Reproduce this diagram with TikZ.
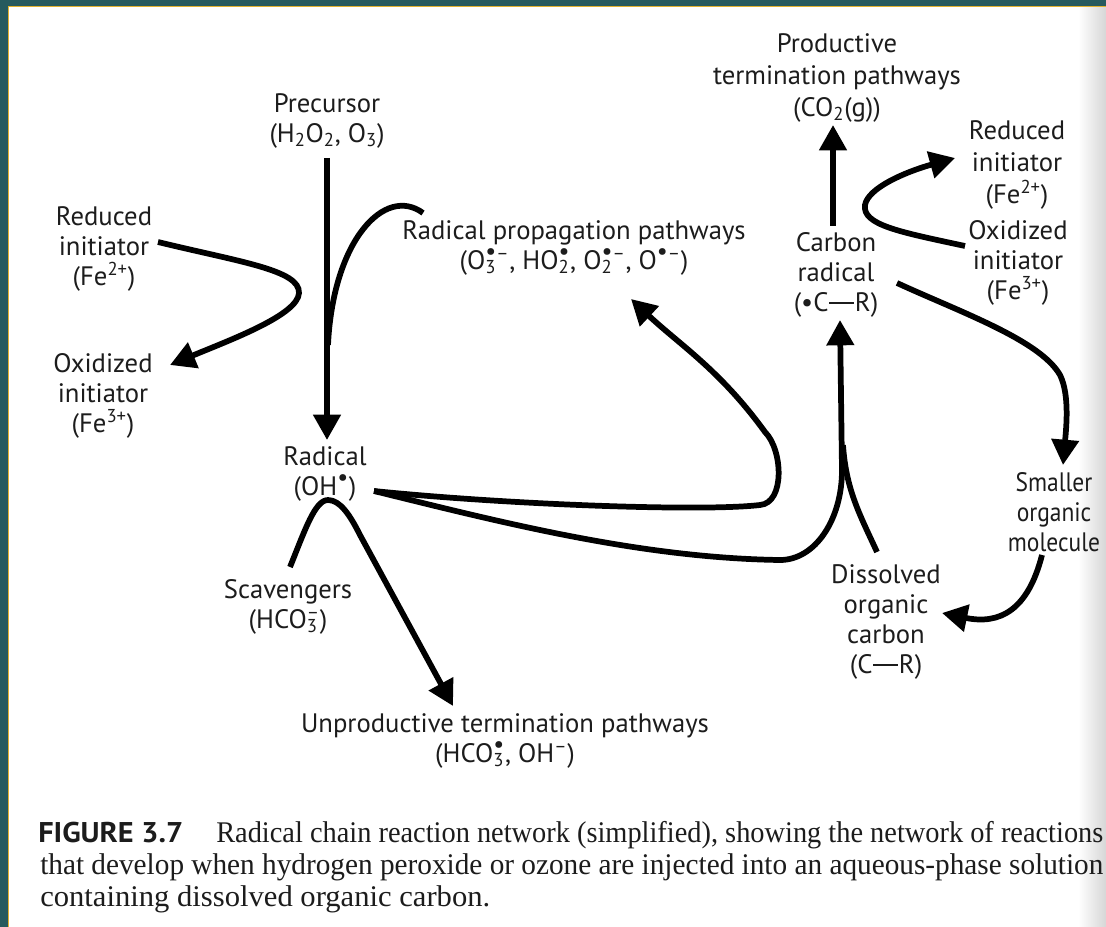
\documentclass[tikz,border=0pt]{standalone}
\usepackage{fontspec}
\usepackage{graphicx}
\usetikzlibrary{arrows.meta}
\newfontfamily\labfont{PT Sans}
\newfontfamily\labcond[FakeStretch=0.88]{PT Sans}
\newfontfamily\capserif{Liberation Serif}
\definecolor{frameteal}{RGB}{38,90,94}
\definecolor{framegold}{RGB}{226,178,48}
\definecolor{inkc}{RGB}{28,28,28}
\newcommand\chemss[2]{{\setbox0=\hbox{\textsuperscript{#2}}\setbox2=\hbox{\textsubscript{#1}}\ifdim\wd0>\wd2 \rlap{\copy2}\copy0 \else\rlap{\copy0}\copy2 \fi}}
\newcommand\rdot{\scalebox{1.3}{•}}
\newcommand\cdash{\kern0.02em\rule[0.29em]{0.95em}{0.065em}\kern0.02em}
\begin{document}
\begin{tikzpicture}[x=0.75pt,y=-0.75pt,
  lab/.style={font=\labfont\fontsize{20pt}{22.5pt}\selectfont, align=center, inner sep=0pt, text=inkc},
  labc/.style={lab, font=\labcond\fontsize{20pt}{22.5pt}\selectfont},
  wire/.style={line width=4.3pt, black},
  flow/.style={wire, -{Triangle[length=19pt,width=20pt]}},
  capn/.style={anchor=base west, inner sep=0pt, text=inkc}]
\useasboundingbox (0,0) rectangle (1106,927);
\fill[white] (0,0) rectangle (1106,927);
\shade[left color=white, right color=black!16] (1078,7) rectangle (1106,927);
\fill[frameteal] (0,0) rectangle (1106,6);
\fill[frameteal] (0,0) rectangle (8,927);
\draw[framegold, line width=1.1pt] (8.7,927) -- (8.7,6.7) -- (1106,6.7);

% labels
\node[lab] (prec) at (327,121) {Precursor\\(H\textsubscript{2}O\textsubscript{2}, O\textsubscript{3})};
\node[lab] (redL) at (104,249) {Reduced\\initiator\\(Fe\textsuperscript{2+})};
\node[lab] (oxL) at (103,396) {Oxidized\\initiator\\(Fe\textsuperscript{3+})};
\node[lab] (prop) at (574,248) {Radical propagation pathways\\(O\chemss{3}{\rdot–}, HO\chemss{2}{\rdot}, O\chemss{2}{\rdot–}, O\textsuperscript{\rdot–})};
\node[lab, font=\labfont\fontsize{20pt}{24pt}\selectfont] (prod) at (837,78) {Productive\\termination pathways\\(CO\textsubscript{2}(g))};
\node[lab, font=\labfont\fontsize{20pt}{24pt}\selectfont] (redR) at (1017,165) {Reduced\\initiator\\(Fe\textsuperscript{2+})};
\node[lab] (oxR) at (1018,263) {Oxidized\\initiator\\(Fe\textsuperscript{3+})};
\node[lab] (crad) at (836,275) {Carbon\\radical\\(•C\cdash R)};
\node[lab] (rad) at (325,474) {Radical\\(OH\textsuperscript{\rdot})};
\node[lab] (scav) at (288,607) {Scavengers\\(HCO\chemss{3}{–})};
\node[lab] (unprod) at (505,741) {Unproductive termination pathways\\(HCO\chemss{3}{\rdot}, OH\textsuperscript{–})};
\node[labc] (small) at (1054,512) {Smaller\\organic\\molecule};
\node[lab] (doc) at (886,622) {Dissolved\\organic\\carbon\\(C\cdash R)};

% connector end points
\coordinate (a1s) at (327,158);
\coordinate (a1e) at (327,440);
\coordinate (fbS) at (423,213);
\coordinate (fbE) at (328,345);
\coordinate (iLs) at (158,242);
\coordinate (iLt) at (299,293);
\coordinate (iLe) at (170,365);
\coordinate (rS) at (374,491);
\coordinate (pL1) at (760,505);
\coordinate (pL2) at (765,432);
\coordinate (pE) at (631,299);
\coordinate (cL1) at (780,560);
\coordinate (cL2) at (842,470);
\coordinate (cE) at (840,320);
\coordinate (dS) at (877,552);
\coordinate (dE) at (843,445);
\coordinate (sS) at (290,567);
\coordinate (sP) at (328,500);
\coordinate (sM) at (360,535);
\coordinate (sE) at (453,706);
\coordinate (gS) at (833,226);
\coordinate (gE) at (833,125);
\coordinate (oRs) at (965,246);
\coordinate (oRt) at (865,205);
\coordinate (oRe) at (955,158);
\coordinate (mS) at (897,283);
\coordinate (mM) at (1060,375);
\coordinate (mE) at (1063,465);
\coordinate (nS) at (1042,555);
\coordinate (nE) at (942,613);

% connectors
\draw[flow] (a1s) -- (a1e);
\draw[wire] (fbS) .. controls (385,185) and (333,240) .. (fbE);
\draw[flow] (iLs) .. controls (240,262) and (300,270) .. (iLt) .. controls (298,315) and (230,340) .. (iLe);
\draw[flow] (rS) .. controls (500,504) and (700,512) .. (pL1) .. controls (785,503) and (783,450) .. (pL2) .. controls (720,370) and (680,345) .. (pE);
\draw[flow] (rS) .. controls (500,522) and (640,558) .. (cL1) .. controls (815,560) and (842,520) .. (cL2) -- (cE);
\draw[wire] (dS) .. controls (860,515) and (846,490) .. (dE);
\draw[flow] (sS) .. controls (305,530) and (315,500) .. (sP) .. controls (340,500) and (350,515) .. (sM) -- (sE);
\draw[flow] (gS) -- (gE);
\draw[flow] (oRs) .. controls (900,232) and (862,225) .. (oRt) .. controls (868,188) and (905,172) .. (oRe);
\draw[flow] (mS) .. controls (960,312) and (1040,340) .. (mM) .. controls (1070,395) and (1066,430) .. (mE);
\draw[flow] (nS) .. controls (1028,610) and (1000,625) .. (nE);

% caption
\node[capn] (cap1a) at (38,842) {\resizebox{108.75pt}{\height}{\labfont\bfseries\fontsize{21.4pt}{24pt}\selectfont FIGURE 3.7}};
\node[capn] (cap1b) at (216,842) {\resizebox{665.25pt}{\height}{\capserif\fontsize{22.5pt}{24pt}\selectfont Radical chain reaction network (simplified), showing the network of reactions}};
\node[capn] (cap2) at (40,874) {\resizebox{797.25pt}{\height}{\capserif\fontsize{22.5pt}{24pt}\selectfont that develop when hydrogen peroxide or ozone are injected into an aqueous-phase solution}};
\node[capn] (cap3) at (40,906) {\resizebox{337.5pt}{\height}{\capserif\fontsize{22.5pt}{24pt}\selectfont containing dissolved organic carbon.}};
\end{tikzpicture}
\end{document}
